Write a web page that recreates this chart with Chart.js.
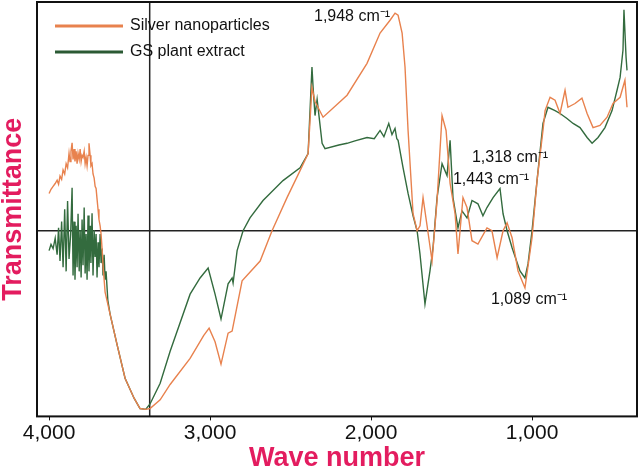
<!DOCTYPE html>
<html>
<head>
<meta charset="utf-8">
<script src="https://cdn.jsdelivr.net/npm/chart.js@4/dist/chart.umd.min.js"></script>
<style>
  html, body { margin: 0; padding: 0; background: #fff; }
  #wrap { width: 643px; height: 469px; }
</style>
</head>
<body>
<div id="wrap"><canvas id="ftir"></canvas></div>
<script>
// FTIR spectra: wave number (cm-1) vs transmittance (arbitrary %)

const xTicks = [4000, 3000, 2000, 1000];

const silverWave = [
  4000, 3988, 3975, 3962, 3950, 3941, 3932, 3922, 3913, 3903, 3894, 3885, 3876, 3870, 3864, 3857, 3851, 3845,
  3839, 3832, 3826, 3820, 3813, 3807, 3801, 3795, 3789, 3782, 3776, 3770, 3764, 3758, 3752, 3745, 3740, 3733,
  3727, 3720, 3714, 3708, 3702, 3696, 3690, 3683, 3677, 3670, 3664, 3658, 3652, 3621, 3578, 3528, 3472, 3435,
  3400, 3373, 3310, 3248, 3124, 3040, 3006, 2969, 2932, 2888, 2863, 2801, 2689, 2615, 2522, 2441, 2391, 2367,
  2348, 2298, 2149, 2025, 1944, 1882, 1851, 1832, 1807, 1789, 1770, 1739, 1714, 1696, 1677, 1652, 1621, 1590,
  1559, 1534, 1509, 1478, 1460, 1429, 1404, 1373, 1336, 1280, 1249, 1217, 1180, 1155, 1124, 1087, 1044, 1000,
  969, 932, 919, 888, 857, 826, 795, 777, 733, 690, 658, 621, 578, 534, 497, 453, 423, 410
];
const silverT = [
  53.8, 54.8, 55.5, 56.2, 57.0, 56.0, 58.0, 57.2, 59.5, 58.5, 61.0, 60.0, 63.5, 61.5, 64.0, 66.0, 62.0, 64.5,
  61.5, 64.0, 61.0, 63.5, 62.0, 64.5, 61.5, 63.0, 62.5, 64.0, 61.0, 62.5, 60.5, 63.0, 65.9, 63.0, 60.5, 61.0,
  58.5, 57.5, 55.5, 55.0, 52.5, 50.0, 47.5, 46.0, 44.0, 40.0, 36.0, 33.0, 30.0, 24.7, 17.4, 9.2, 4.4, 1.9,
  1.7, 1.9, 4.0, 7.7, 14.0, 19.5, 21.3, 18.0, 12.6, 20.1, 20.6, 32.7, 37.5, 44.8, 52.8, 59.3, 63.4, 79.4,
  76.0, 72.2, 77.5, 85.2, 92.5, 95.6, 97.3, 96.8, 92.5, 84.3, 69.0, 48.9, 44.8, 46.0, 52.8, 46.0, 37.5, 52.1,
  72.6, 69.0, 56.2, 48.9, 39.2, 52.8, 50.4, 42.4, 41.6, 45.5, 44.8, 38.3, 44.8, 46.7, 43.1, 35.1, 31.0, 43.1,
  56.9, 69.0, 73.8, 77.0, 76.3, 73.1, 78.7, 74.6, 75.5, 76.8, 73.1, 69.7, 70.2, 72.2, 75.5, 77.0, 81.1, 74.6
];

const extractWave = [
  4000, 3988, 3975, 3962, 3950, 3941, 3932, 3922, 3913, 3903, 3894, 3885, 3876, 3866, 3857, 3851, 3845, 3839,
  3832, 3826, 3820, 3813, 3807, 3801, 3795, 3789, 3782, 3776, 3770, 3764, 3758, 3752, 3745, 3740, 3733, 3727,
  3720, 3714, 3708, 3702, 3696, 3690, 3683, 3677, 3670, 3665, 3658, 3652, 3646, 3635, 3621, 3578, 3528, 3472,
  3435, 3400, 3373, 3310, 3248, 3124, 3062, 3012, 2969, 2932, 2888, 2863, 2857, 2832, 2795, 2752, 2671, 2547,
  2441, 2391, 2367, 2360, 2348, 2335, 2304, 2286, 2200, 2149, 2100, 2025, 1980, 1944, 1920, 1890, 1870, 1851,
  1840, 1832, 1801, 1770, 1739, 1714, 1696, 1665, 1634, 1615, 1590, 1559, 1528, 1509, 1491, 1460, 1435, 1404,
  1373, 1336, 1305, 1280, 1242, 1199, 1180, 1155, 1124, 1075, 1044, 1025, 1000, 969, 932, 901, 857, 826, 783,
  745, 702, 658, 627, 590, 547, 503, 472, 453, 435, 429, 416, 410
];
const extractT = [
  40.0, 41.5, 40.5, 43.0, 39.0, 45.5, 37.5, 47.0, 36.0, 50.0, 35.0, 52.0, 38.0, 44.0, 55.2, 34.0, 47.0, 33.0,
  46.0, 36.0, 48.9, 35.0, 45.0, 33.5, 47.5, 36.5, 50.4, 34.5, 44.0, 33.0, 48.5, 35.0, 46.0, 37.0, 49.0, 34.0,
  45.0, 38.5, 44.0, 33.5, 42.0, 36.0, 44.0, 37.0, 40.5, 34.0, 39.0, 33.0, 35.0, 28.0, 24.7, 17.4, 9.2, 4.4,
  1.9, 1.7, 3.0, 8.0, 15.7, 29.5, 33.4, 35.8, 29.5, 23.5, 32.0, 33.4, 32.2, 40.0, 44.8, 47.9, 52.1, 56.9,
  60.0, 63.4, 84.3, 79.4, 72.6, 76.5, 65.9, 64.6, 65.5, 65.9, 66.5, 67.3, 67.0, 69.0, 67.5, 70.7, 68.0, 69.5,
  67.0, 66.6, 60.0, 53.8, 48.4, 44.8, 39.2, 27.1, 35.1, 40.7, 52.8, 61.0, 58.1, 66.6, 52.8, 45.5, 49.6, 47.9,
  52.1, 51.3, 48.4, 50.4, 52.8, 55.0, 48.9, 44.8, 40.7, 35.1, 33.4, 36.8, 44.8, 56.9, 70.7, 74.6, 73.8, 73.1, 71.9,
  70.7, 69.7, 67.3, 65.9, 67.3, 69.7, 73.8, 78.7, 81.8, 88.4, 98.1, 86.7, 83.5
];

// reference cross-hair lines in the figure
const refWave = 3375;
const refT = 44.8;

const peakLabels = ["1,948 cm\u207B\u00B9", "1,318 cm\u207B\u00B9", "1,443 cm\u207B\u00B9", "1,089 cm\u207B\u00B9"];
const peakWave = [2118, 1137, 1255, 1019];
const peakT = [96.4, 62.5, 57.1, 28.3];

const FONT = "'Liberation Sans', Arial, Helvetica, sans-serif";
const PINK = "#e31c5f";

const zip = (xs, ys) => xs.map((x, i) => ({ x, y: ys[i] }));

const framePlugin = {
  id: "frame",
  afterDatasetsDraw(chart) {
    const { ctx, chartArea: a } = chart;
    ctx.save();
    ctx.strokeStyle = "#111";
    ctx.lineWidth = 2;
    ctx.strokeRect(a.left, a.top, a.right - a.left, a.bottom - a.top);
    ctx.restore();
  },
};

const peakLabelPlugin = {
  id: "peakLabels",
  afterDatasetsDraw(chart) {
    const { ctx, scales } = chart;
    ctx.save();
    ctx.font = "16px " + FONT;
    ctx.fillStyle = "#111";
    ctx.textAlign = "center";
    ctx.textBaseline = "middle";
    peakLabels.forEach((txt, i) => {
      ctx.fillText(txt, scales.x.getPixelForValue(peakWave[i]), scales.y.getPixelForValue(peakT[i]));
    });
    ctx.restore();
  },
};

const insideLegend = {
  id: "insideLegend",
  afterDatasetsDraw(chart) {
    const { ctx, chartArea: a } = chart;
    ctx.save();
    ctx.font = "16px " + FONT;
    ctx.textBaseline = "middle";
    ctx.fillStyle = "#111";
    let y = a.top + 24;
    chart.data.datasets.filter((d) => d.inLegend).forEach((d) => {
      ctx.strokeStyle = d.legendColor || d.borderColor;
      ctx.lineWidth = 3;
      ctx.beginPath();
      ctx.moveTo(a.left + 18, y);
      ctx.lineTo(a.left + 86, y);
      ctx.stroke();
      ctx.fillText(d.label, a.left + 93, y);
      y += 26;
    });
    ctx.restore();
  },
};

new Chart(document.getElementById("ftir"), {
  type: "line",
  data: {
    datasets: [
      {
        label: "Silver nanoparticles",
        data: zip(silverWave, silverT),
        borderColor: "#e8824e",
        borderWidth: 1.4,
        inLegend: true,
      },
      {
        label: "GS plant extract",
        data: zip(extractWave, extractT),
        borderColor: "#336b3e",
        legendColor: "#2b5a34",
        borderWidth: 1.4,
        inLegend: true,
      },
      {
        label: "vref",
        data: [{ x: refWave, y: 0 }, { x: refWave, y: 100 }],
        borderColor: "#222",
        borderWidth: 1.5,
      },
      {
        label: "href",
        data: [{ x: 348, y: refT }, { x: 4075, y: refT }],
        borderColor: "#222",
        borderWidth: 1.5,
      },
    ],
  },
  options: {
    responsive: true,
    maintainAspectRatio: false,
    animation: false,
    layout: { padding: { top: 2, right: 6, left: 0, bottom: 0 } },
    elements: { point: { radius: 0 }, line: { tension: 0 } },
    plugins: { legend: { display: false }, tooltip: { enabled: false } },
    scales: {
      x: {
        type: "linear",
        reverse: true,
        min: 348,
        max: 4075,
        afterBuildTicks: (scale) => {
          scale.ticks = xTicks.map((v) => ({ value: v }));
        },
        grid: { drawOnChartArea: false, drawTicks: true, tickLength: 4, color: "#111" },
        border: { display: false },
        ticks: {
          color: "#111",
          padding: 2,
          maxRotation: 0,
          font: { family: FONT, size: 21, lineHeight: 1 },
          callback: (v) => Number(v).toLocaleString("en-US"),
        },
        title: {
          display: true,
          text: "Wave number",
          color: PINK,
          padding: { top: 2, bottom: 0 },
          font: { family: FONT, size: 27, weight: "bold", lineHeight: 0.8 },
        },
      },
      y: {
        min: 0,
        max: 100,
        grid: { display: false, drawTicks: false },
        border: { display: false },
        ticks: { display: false },
        title: {
          display: true,
          text: "Transmittance",
          color: PINK,
          padding: { top: 0, bottom: 10 },
          font: { family: FONT, size: 27, weight: "bold", lineHeight: 1 },
        },
      },
    },
  },
  plugins: [framePlugin, peakLabelPlugin, insideLegend],
});
</script>
</body>
</html>
